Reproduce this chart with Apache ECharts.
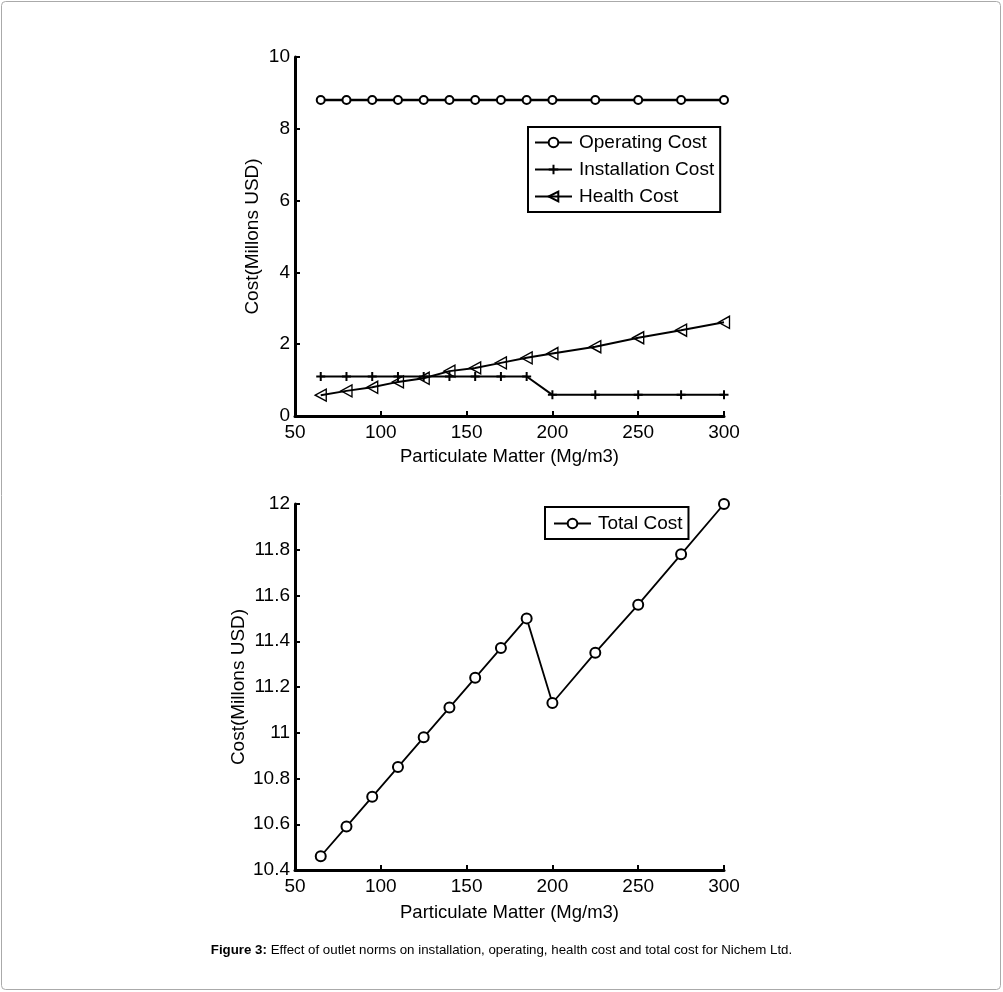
<!DOCTYPE html>
<html>
<head>
<meta charset="utf-8">
<script src="https://cdn.jsdelivr.net/npm/echarts@6/dist/echarts.min.js"></script>
<style>
html,body{margin:0;padding:0;background:#fff;}
#chart{width:1003px;height:992px;}
</style>
</head>
<body>
<div id="chart"></div>
<script>
// ---- data ----
const particulate = [65, 80, 95, 110, 125, 140, 155, 170, 185, 200, 225, 250, 275, 300];
const operatingCost = [8.8, 8.8, 8.8, 8.8, 8.8, 8.8, 8.8, 8.8, 8.8, 8.8, 8.8, 8.8, 8.8, 8.8];
const installationCost = [1.1, 1.1, 1.1, 1.1, 1.1, 1.1, 1.1, 1.1, 1.1, 0.59, 0.59, 0.59, 0.59, 0.59];
const healthCost = [0.58, 0.70, 0.80, 0.95, 1.05, 1.25, 1.34, 1.48, 1.62, 1.74, 1.93, 2.18, 2.39, 2.61];
const totalCost = [10.46, 10.59, 10.72, 10.85, 10.98, 11.11, 11.24, 11.37, 11.50, 11.13, 11.35, 11.56, 11.78, 12.00];
const xAxisName = 'Particulate Matter (Mg/m3)';
const yAxisName = 'Cost(Millons USD)';
const captionBold = 'Figure 3:';
const captionText = ' Effect of outlet norms on installation, operating, health cost and total cost for Nichem Ltd.';

const pairs = ys => particulate.map((x, i) => [x, ys[i]]);
const FONT = "'Liberation Sans', Arial, sans-serif";
const FS = 19;

const chart = echarts.init(document.getElementById('chart'), null, {renderer: 'canvas'});

function xAxisCfg(gridIndex, gap) {
  return {
    gridIndex, type: 'value', min: 50, max: 300, interval: 50,
    name: xAxisName, nameLocation: 'middle', nameGap: gap,
    nameTextStyle: {fontFamily: FONT, fontSize: 18.5, color: '#000'},
    axisLine: {show: true, onZero: false, lineStyle: {color: '#000', width: 3}},
    axisTick: {show: true, inside: true, length: 5, lineStyle: {color: '#000', width: 2}},
    axisLabel: {fontFamily: FONT, fontSize: FS, color: '#000', margin: 7},
    splitLine: {show: false}
  };
}
function yAxisCfg(gridIndex, min, max, interval, gap) {
  return {
    gridIndex, type: 'value', min, max, interval,
    name: yAxisName, nameLocation: 'middle', nameGap: gap,
    nameTextStyle: {fontFamily: FONT, fontSize: 19, color: '#000'},
    axisLine: {show: true, onZero: false, lineStyle: {color: '#000', width: 3}},
    axisTick: {show: true, inside: true, length: 5, lineStyle: {color: '#000', width: 2}},
    axisLabel: {fontFamily: FONT, fontSize: FS, color: '#000', margin: 5},
    splitLine: {show: false}
  };
}

const triPath = 'path://M0,5L10,0L10,10Z';
const plusPath = 'path://M5,0L5,10M0,5L10,5';

chart.setOption({
  animation: false,
  backgroundColor: '#fff',
  title: {
    text: '{b|' + captionBold + '}' + captionText,
    left: 'center', top: 939,
    textStyle: {fontFamily: FONT, fontSize: 13.3, fontWeight: 'normal', color: '#000',
      rich: {b: {fontFamily: FONT, fontSize: 13.3, fontWeight: 'bold', color: '#000'}}}
  },
  graphic: [{
    type: 'rect', shape: {x: 1.5, y: 1.5, width: 999, height: 988, r: 4},
    style: {fill: 'none', stroke: '#aaaaaa', lineWidth: 1}, silent: true, z: -1
  }],
  grid: [
    {left: 295, top: 57, width: 429, height: 359},
    {left: 295, top: 504, width: 429, height: 366}
  ],
  xAxis: [xAxisCfg(0, 31), xAxisCfg(1, 33)],
  yAxis: [yAxisCfg(0, 0, 10, 2, 33), yAxisCfg(1, 10.4, 12, 0.2, 47)],
  legend: [
    {
      left: 528, top: 127, orient: 'vertical',
      data: ['Operating Cost', 'Installation Cost', 'Health Cost'],
      borderColor: '#000', borderWidth: 2, padding: [6, 6, 6, 6],
      itemWidth: 37, itemHeight: 12, itemGap: 8,
      textStyle: {fontFamily: FONT, fontSize: 19, color: '#000', padding: [0, 0, 0, 2]}
    },
    {
      left: 545, top: 507,
      data: ['Total Cost'],
      borderColor: '#000', borderWidth: 2, padding: [7, 6, 6, 8],
      itemWidth: 37, itemHeight: 12,
      textStyle: {fontFamily: FONT, fontSize: 19, color: '#000', padding: [0, 0, 0, 2]}
    }
  ],
  series: [
    {
      name: 'Operating Cost', type: 'line', xAxisIndex: 0, yAxisIndex: 0,
      data: pairs(operatingCost), color: '#000',
      symbol: 'emptyCircle', symbolSize: 8,
      lineStyle: {color: '#000', width: 2.5},
      itemStyle: {color: '#000', borderColor: '#000', borderWidth: 1.6}
    },
    {
      name: 'Installation Cost', type: 'line', xAxisIndex: 0, yAxisIndex: 0,
      data: pairs(installationCost), color: '#000',
      symbol: plusPath, symbolSize: 9,
      lineStyle: {color: '#000', width: 2},
      itemStyle: {color: '#000', borderColor: '#000', borderWidth: 2}
    },
    {
      name: 'Health Cost', type: 'line', xAxisIndex: 0, yAxisIndex: 0,
      data: pairs(healthCost), color: '#000',
      symbol: triPath, symbolSize: [11, 12],
      lineStyle: {color: '#000', width: 2},
      itemStyle: {color: 'rgba(255,255,255,0)', borderColor: '#000', borderWidth: 1.4}
    },
    {
      name: 'Total Cost', type: 'line', xAxisIndex: 1, yAxisIndex: 1,
      data: pairs(totalCost), color: '#000',
      symbol: 'emptyCircle', symbolSize: 10,
      lineStyle: {color: '#000', width: 1.8},
      itemStyle: {color: '#000', borderColor: '#000', borderWidth: 1.6}
    }
  ]
});
</script>
</body>
</html>
